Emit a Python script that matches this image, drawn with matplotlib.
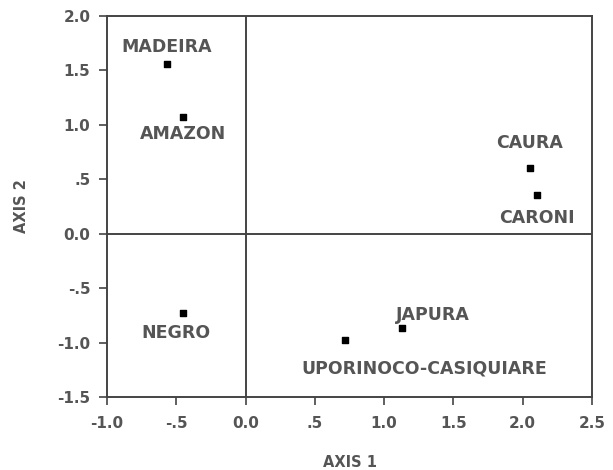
import matplotlib.pyplot as plt

plt.rcParams['font.family'] = ['DejaVu Sans']

# site scores
rivers = ['MADEIRA', 'AMAZON', 'CAURA', 'CARONI', 'NEGRO', 'JAPURA',
          'UPORINOCO-CASIQUIARE']
axis1 = [-0.57, -0.45, 2.05, 2.10, -0.45, 1.13, 0.72]
axis2 = [1.56, 1.07, 0.60, 0.36, -0.73, -0.87, -0.98]
# label offsets in points (dx, dy)
offsets = [(0, 12), (0, -12), (0, 18), (0, -17), (-5, -14), (22, 10), (57, -20)]

xticks = [-1.0, -0.5, 0.0, 0.5, 1.0, 1.5, 2.0, 2.5]
xtick_labels = ['-1.0', '-.5', '0.0', '.5', '1.0', '1.5', '2.0', '2.5']
yticks = [-1.5, -1.0, -0.5, 0.0, 0.5, 1.0, 1.5, 2.0]
ytick_labels = ['-1.5', '-1.0', '-.5', '0.0', '.5', '1.0', '1.5', '2.0']

txt_color = '#555555'

fig = plt.figure(figsize=(6.13, 4.70), dpi=100)
ax = fig.add_axes([0.1746, 0.1553, 0.7911, 0.8107])

ax.axhline(0, color='#444444', lw=1.4)
ax.axvline(0, color='#444444', lw=1.4)
ax.scatter(axis1, axis2, marker='s', s=19, color='black', zorder=3)

for name, x, y, (dx, dy) in zip(rivers, axis1, axis2, offsets):
    ax.annotate(name, (x, y), xytext=(dx, dy), textcoords='offset points',
                ha='center', va='center', fontsize=12.5, fontweight='bold',
                color=txt_color)

ax.set_xlim(-1.0, 2.5)
ax.set_ylim(-1.5, 2.0)
ax.set_xticks(xticks)
ax.set_xticklabels(xtick_labels, fontweight='bold')
ax.set_yticks(yticks)
ax.set_yticklabels(ytick_labels, fontweight='bold')
ax.tick_params(direction='out', length=6, width=1.2, color='#444444',
               labelsize=11, labelcolor=txt_color)
ax.tick_params(axis='x', pad=8)
ax.tick_params(axis='y', pad=6)
for sp in ax.spines.values():
    sp.set_color('#444444')
    sp.set_linewidth(1.4)

ax.set_xlabel('AXIS 1', fontsize=10.5, fontweight='bold', color=txt_color,
              labelpad=17)
ax.set_ylabel('AXIS 2', fontsize=10.5, fontweight='bold', color=txt_color,
              labelpad=20)

fig.savefig('out.png', dpi=100)
